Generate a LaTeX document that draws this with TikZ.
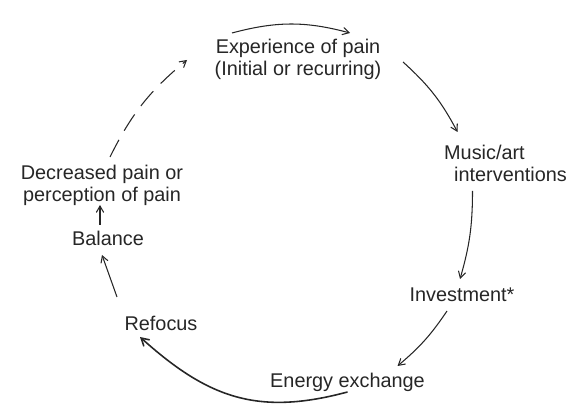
\documentclass[tikz,border=0pt]{standalone}
\usepackage{fontspec}
\setmainfont{Liberation Sans}
\usetikzlibrary{arrows}
\definecolor{ink}{HTML}{262626}
\tikzstyle{txt} = [inner sep=0pt, text=ink, font=\fontsize{11.3}{12.5}\selectfont, align=center]
\tikzstyle{arrow} = [draw=ink, line width=0.6pt, ->, >=angle 60]
\tikzstyle{dasharrow} = [arrow, dash pattern=on 11pt off 6pt]

\begin{document}
\begin{tikzpicture}
      \useasboundingbox (0,0) rectangle (11.5,8.18);
      \node (exp) [txt] at (5.96,7.00) {Experience of pain\\(Initial or recurring)};
      \node (music) [txt, align=left] at (10.11,4.92) {Music/art\\\hspace{5.7pt}interventions};
      \node (inv) [txt] at (9.24,2.28) {Investment*};
      \node (energy) [txt] at (6.95,0.54) {Energy exchange};
      \node (refocus) [txt] at (3.22,1.72) {Refocus};
      \node (balance) [txt] at (2.16,3.42) {Balance};
      \node (decr) [txt] at (2.04,4.48) {Decreased pain or\\perception of pain};

      \draw [arrow] ([xshift=-1.32cm,yshift=0.52cm]exp.center) to[bend left=15] ([xshift=1.04cm,yshift=0.52cm]exp.center);
      \draw [arrow] ([xshift=2.10cm,yshift=-0.06cm]exp.center) to[bend left=10] ([xshift=-0.96cm,yshift=0.62cm]music.center);
      \draw [arrow] ([xshift=-0.66cm,yshift=-0.56cm]music.center) to[bend left=8] ([xshift=-0.04cm,yshift=0.32cm]inv.center);
      \draw [arrow] ([xshift=-0.30cm,yshift=-0.32cm]inv.center) to[bend left=8] ([xshift=1.00cm,yshift=0.32cm]energy.center);
      \draw [arrow, line width=0.9pt] ([yshift=-0.20cm]energy.center) to[out=195, in=-42, looseness=1.1] ([xshift=-0.42cm,yshift=-0.28cm]refocus.center);
      \draw [arrow] ([xshift=-0.88cm,yshift=0.52cm]refocus.center) -- ([xshift=-0.12cm,yshift=-0.34cm]balance.center);
      \draw [arrow] ([xshift=-0.16cm,yshift=0.26cm]balance.center) -- ([xshift=-0.04cm,yshift=-0.40cm]decr.center);
      \draw [dasharrow] ([xshift=0.16cm,yshift=0.56cm]decr.center) to[bend left=12] ([xshift=-2.22cm,yshift=-0.02cm]exp.center);
\end{tikzpicture}
\end{document}
